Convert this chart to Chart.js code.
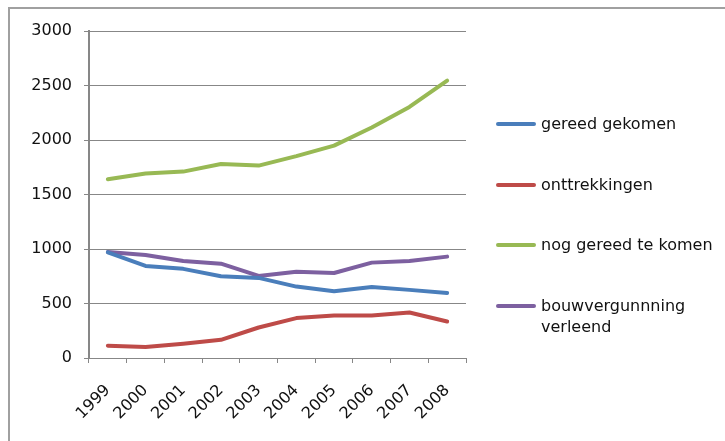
<!DOCTYPE html>
<html>
<head>
<meta charset="utf-8">
<script src="https://cdn.jsdelivr.net/npm/chart.js@4.4.1/dist/chart.umd.min.js"></script>
<style>
  html, body { margin: 0; padding: 0; background: #fff; }
  #wrap { position: relative; width: 725px; height: 441px; overflow: hidden; }
  #frame {
    position: absolute; left: 8px; top: 7px; width: 740px; height: 460px;
    border-top: 2px solid #a0a0a0; border-left: 2px solid #a0a0a0;
  }
  #chart { position: absolute; left: 0; top: 0; }
  #legend {
    position: absolute; left: 0; top: 0; width: 725px; height: 441px;
    font-family: "DejaVu Sans", sans-serif; font-size: 16px; color: #111;
  }
  .item { position: absolute; left: 496px; width: 225px; display: flex; align-items: flex-start; }
  .swatch { flex: none; width: 40px; height: 4px; border-radius: 2px; margin-top: 9px; }
  .label { margin-left: 5px; width: 178px; line-height: 21px; }
</style>
</head>
<body>
<div id="wrap">
  <div id="frame"></div>
  <canvas id="chart" width="725" height="441"></canvas>
  <div id="legend"></div>
</div>
<script>
// Years on the x axis
const years = ["1999", "2000", "2001", "2002", "2003", "2004", "2005", "2006", "2007", "2008"];

// Number of dwellings per year
const gereedGekomen = [970, 845, 818, 750, 735, 655, 613, 652, 625, 597];
const onttrekkingen = [113, 101, 131, 167, 280, 366, 390, 390, 417, 335];
const nogGereed = [1640, 1692, 1710, 1780, 1765, 1852, 1948, 2115, 2303, 2545];
const bouwvergunning = [972, 945, 890, 865, 753, 792, 780, 875, 890, 930];

const seriesNames = ["gereed gekomen", "onttrekkingen", "nog gereed te komen", "bouwvergunnning verleend"];
const seriesColors = ["#4a7ebb", "#be4b48", "#98b954", "#7d60a0"];

const axisColor = "#878787";
const tickFont = { family: "DejaVu Sans", size: 16 };

const datasets = [gereedGekomen, onttrekkingen, nogGereed, bouwvergunning].map((values, i) => ({
  label: seriesNames[i],
  data: values,
  borderColor: seriesColors[i],
  backgroundColor: seriesColors[i],
  borderWidth: 4,
  pointRadius: 0,
  tension: 0,
  borderCapStyle: "round",
  borderJoinStyle: "round",
}));

const chart = new Chart(document.getElementById("chart"), {
  type: "line",
  data: { labels: years, datasets },
  options: {
    responsive: false,
    animation: false,
    layout: { padding: { top: 31, right: 259, bottom: 0, left: 0 } },
    plugins: { legend: { display: false }, tooltip: { enabled: false } },
    scales: {
      x: {
        offset: true,
        afterFit: (scale) => { scale.height = 83; },
        grid: {
          offset: true,
          drawOnChartArea: false,
          color: axisColor,
          tickLength: 5,
        },
        border: { color: axisColor, width: 1 },
        ticks: {
          color: "#111",
          font: tickFont,
          minRotation: 45,
          maxRotation: 45,
          padding: 18,
          autoSkip: false,
        },
      },
      y: {
        min: 0,
        max: 3000,
        afterFit: (scale) => { scale.width = 89; },
        grid: { color: axisColor, tickLength: 5 },
        border: { color: axisColor, width: 2 },
        ticks: {
          stepSize: 500,
          color: "#111",
          font: tickFont,
          padding: 12,
          callback: (value) => String(value),
        },
      },
    },
  },
});

// Legend on the right, one row per series
const legendBox = document.getElementById("legend");
const rowTops = [113, 174, 234, 295];
chart.data.datasets.forEach((ds, i) => {
  const row = document.createElement("div");
  row.className = "item";
  row.style.top = rowTops[i] + "px";
  row.innerHTML = `<div class="swatch" style="background:${ds.borderColor}"></div><div class="label">${ds.label}</div>`;
  legendBox.appendChild(row);
});
</script>
</body>
</html>
